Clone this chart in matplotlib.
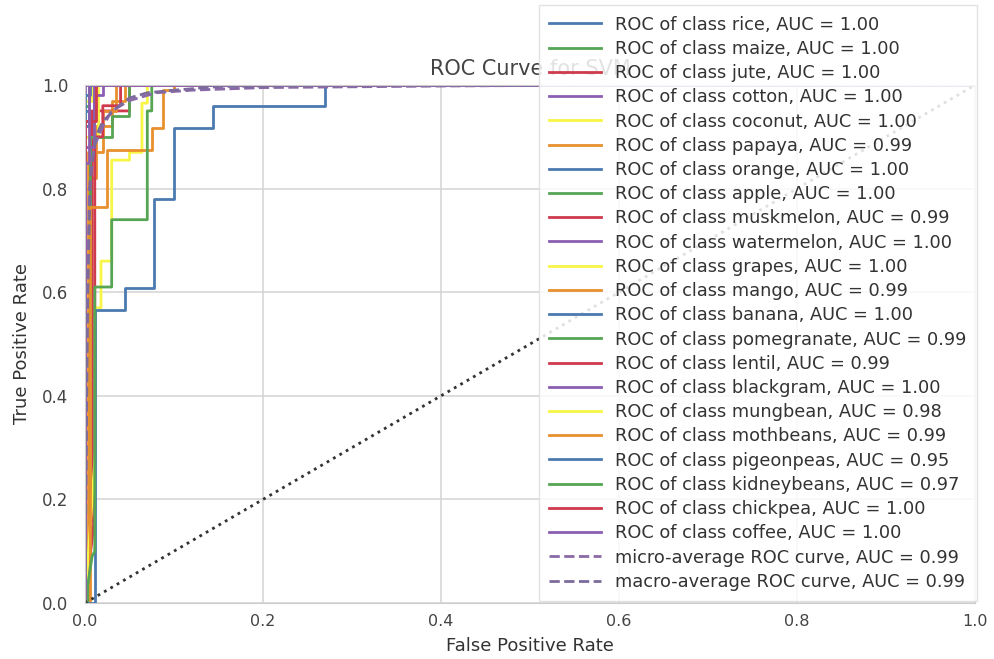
import matplotlib
matplotlib.use("Agg")
import matplotlib.pyplot as plt

plt.rcParams['font.family'] = ['DejaVu Sans']

classes = ["rice", "maize", "jute", "cotton", "coconut", "papaya", "orange", "apple",
           "muskmelon", "watermelon", "grapes", "mango", "banana", "pomegranate",
           "lentil", "blackgram", "mungbean", "mothbeans", "pigeonpeas", "kidneybeans",
           "chickpea", "coffee"]
aucs = [1.00, 1.00, 1.00, 1.00, 1.00, 0.99, 1.00, 1.00, 0.99, 1.00, 1.00, 0.99, 1.00, 0.99,
        0.99, 1.00, 0.98, 0.99, 0.95, 0.97, 1.00, 1.00]

fpr_rice = [0, 0, 0.005, 0.005, 1]
tpr_rice = [0, 0.95, 0.95, 1, 1]
fpr_maize = [0, 0, 0.01, 0.01, 1]
tpr_maize = [0, 0.9, 0.9, 1, 1]
fpr_jute = [0, 0, 0.006, 0.006, 0.012, 0.012, 1]
tpr_jute = [0, 0.8, 0.8, 0.95, 0.95, 1, 1]
fpr_cotton = [0, 0, 1]
tpr_cotton = [0, 1, 1]
fpr_coconut = [0, 0, 0.008, 0.008, 1]
tpr_coconut = [0, 0.97, 0.97, 1, 1]
fpr_papaya = [0, 0.005, 0.005, 0.012, 0.012, 0.03, 0.03, 0.045, 0.045, 1]
tpr_papaya = [0, 0, 0.82, 0.82, 0.92, 0.92, 0.97, 0.97, 1, 1]
fpr_orange = [0, 0, 0.005, 0.005, 1]
tpr_orange = [0, 0.92, 0.92, 1, 1]
fpr_apple = [0, 0, 0.004, 0.004, 1]
tpr_apple = [0, 0.96, 0.96, 1, 1]
fpr_muskmelon = [0, 0.004, 0.008, 0.008, 0.05, 0.05, 1]
tpr_muskmelon = [0, 0.1, 0.17, 0.95, 0.95, 1, 1]
fpr_watermelon = [0, 0, 0.01, 0.01, 1]
tpr_watermelon = [0, 0.93, 0.93, 1, 1]
fpr_grapes = [0, 0, 0.015, 0.015, 1]
tpr_grapes = [0, 0.9, 0.9, 1, 1]
fpr_mango = [0, 0.003, 0.003, 0.02, 0.02, 0.035, 0.035, 1]
tpr_mango = [0, 0, 0.87, 0.87, 0.95, 0.95, 1, 1]
fpr_banana = [0, 0, 0.006, 0.006, 1]
tpr_banana = [0, 0.98, 0.98, 1, 1]
fpr_pomegranate = [0, 0.003, 0.003, 0.006, 0.006, 0.03, 0.03, 0.05, 0.05, 1]
tpr_pomegranate = [0, 0, 0.09, 0.09, 0.9, 0.9, 0.94, 0.94, 1, 1]
fpr_lentil = [0, 0.011, 0.011, 0.02, 0.02, 0.04, 0.04, 1]
tpr_lentil = [0, 0.17, 0.9, 0.9, 0.96, 0.96, 1, 1]
fpr_blackgram = [0, 0, 0.01, 0.01, 0.02, 0.02, 1]
tpr_blackgram = [0, 0.88, 0.88, 0.98, 0.98, 1, 1]
fpr_mungbean = [0, 0.012, 0.012, 0.018, 0.018, 0.03, 0.03, 0.05, 0.05, 0.064, 0.064, 0.07, 0.07, 1]
tpr_mungbean = [0, 0.3, 0.57, 0.57, 0.66, 0.66, 0.855, 0.855, 0.87, 0.87, 0.965, 0.965, 1, 1]
fpr_mothbeans = [0, 0.006, 0.006, 0.025, 0.025, 0.075, 0.075, 0.088, 0.088, 0.1, 0.1, 1]
tpr_mothbeans = [0, 0, 0.765, 0.765, 0.875, 0.875, 0.917, 0.917, 0.99, 0.99, 1, 1]
fpr_pigeonpeas = [0, 0.011, 0.011, 0.045, 0.045, 0.077, 0.077, 0.10, 0.10, 0.144, 0.144, 0.27, 0.27, 1]
tpr_pigeonpeas = [0, 0, 0.565, 0.565, 0.608, 0.608, 0.78, 0.78, 0.917, 0.917, 0.96, 0.96, 1, 1]
fpr_kidneybeans = [0, 0.008, 0.011, 0.011, 0.03, 0.03, 0.07, 0.07, 0.075, 0.075, 1]
tpr_kidneybeans = [0, 0.09, 0.1, 0.61, 0.61, 0.74, 0.74, 0.95, 0.95, 1, 1]
fpr_chickpea = [0, 0, 0.012, 0.012, 1]
tpr_chickpea = [0, 0.93, 0.93, 1, 1]
fpr_coffee = [0, 0, 0.004, 0.004, 1]
tpr_coffee = [0, 0.85, 0.85, 1, 1]

fpr_micro = [0, 0.002, 0.005, 0.01, 0.02, 0.03, 0.05, 0.08, 0.12, 0.2, 0.4, 0.6, 1]
tpr_micro = [0, 0.5, 0.8, 0.88, 0.92, 0.95, 0.97, 0.985, 0.99, 0.995, 0.998, 1, 1]
fpr_macro = [0, 0.003, 0.006, 0.012, 0.02, 0.035, 0.05, 0.07, 0.1, 0.15, 0.3, 1]
tpr_macro = [0, 0.6, 0.82, 0.9, 0.93, 0.955, 0.975, 0.985, 0.99, 0.997, 1, 1]
auc_micro = 0.99
auc_macro = 0.99

fprs = [fpr_rice, fpr_maize, fpr_jute, fpr_cotton, fpr_coconut, fpr_papaya, fpr_orange,
        fpr_apple, fpr_muskmelon, fpr_watermelon, fpr_grapes, fpr_mango, fpr_banana,
        fpr_pomegranate, fpr_lentil, fpr_blackgram, fpr_mungbean, fpr_mothbeans,
        fpr_pigeonpeas, fpr_kidneybeans, fpr_chickpea, fpr_coffee]
tprs = [tpr_rice, tpr_maize, tpr_jute, tpr_cotton, tpr_coconut, tpr_papaya, tpr_orange,
        tpr_apple, tpr_muskmelon, tpr_watermelon, tpr_grapes, tpr_mango, tpr_banana,
        tpr_pomegranate, tpr_lentil, tpr_blackgram, tpr_mungbean, tpr_mothbeans,
        tpr_pigeonpeas, tpr_kidneybeans, tpr_chickpea, tpr_coffee]

palette = ["#4a7ab0", "#55a555", "#cf3a4c", "#8c5eb2", "#f7f545", "#e88f2e"]

fig = plt.figure(figsize=(9.94, 6.59), dpi=100)
ax = fig.add_axes([0.0855, 0.085, 0.8955, 0.786])

for i, (c, f, t, a) in enumerate(zip(classes, fprs, tprs, aucs)):
    ax.plot(f, t, color=palette[i % 6], lw=2,
            label=f"ROC of class {c}, AUC = {a:.2f}")
ax.plot(fpr_micro, tpr_micro, color="#8a6aa6", lw=2, ls="--",
        label=f"micro-average ROC curve, AUC = {auc_micro:.2f}")
ax.plot(fpr_macro, tpr_macro, color="#7c6a9c", lw=2, ls="--",
        label=f"macro-average ROC curve, AUC = {auc_macro:.2f}")
ax.plot([0, 1], [0, 1], color="#333333", lw=2, ls=":")

ax.set_xlim(0, 1)
ax.set_ylim(0, 1)
ax.set_xticks([0, 0.2, 0.4, 0.6, 0.8, 1.0])
ax.set_yticks([0, 0.2, 0.4, 0.6, 0.8, 1.0])
ax.grid(True, color="#d3d3d3", lw=1.1)
ax.set_axisbelow(True)
for s in ax.spines.values():
    s.set_color("#cccccc")
ax.tick_params(axis="y", length=0, labelsize=12, colors="#444444", pad=12)
ax.tick_params(axis="x", length=0, labelsize=11.5, colors="#444444", pad=8)
ax.set_xlabel("False Positive Rate", fontsize=13, color="#333333", labelpad=6)
ax.set_ylabel("True Positive Rate", fontsize=13, color="#333333", labelpad=8)
ax.set_title("ROC Curve for SVM", fontsize=15, color="#444444", pad=7)

leg = fig.legend(loc="upper right", bbox_to_anchor=(0.983, 0.9924),
                 prop={"family": "DejaVu Sans", "size": 12.8},
                 frameon=True, framealpha=0.85, edgecolor="#dddddd", fancybox=False,
                 handlelength=2.9, handletextpad=0.8, labelspacing=0.35,
                 borderpad=0.6, borderaxespad=0)
for txt in leg.get_texts():
    txt.set_color("#333333")

fig.savefig("out.png", dpi=100)
